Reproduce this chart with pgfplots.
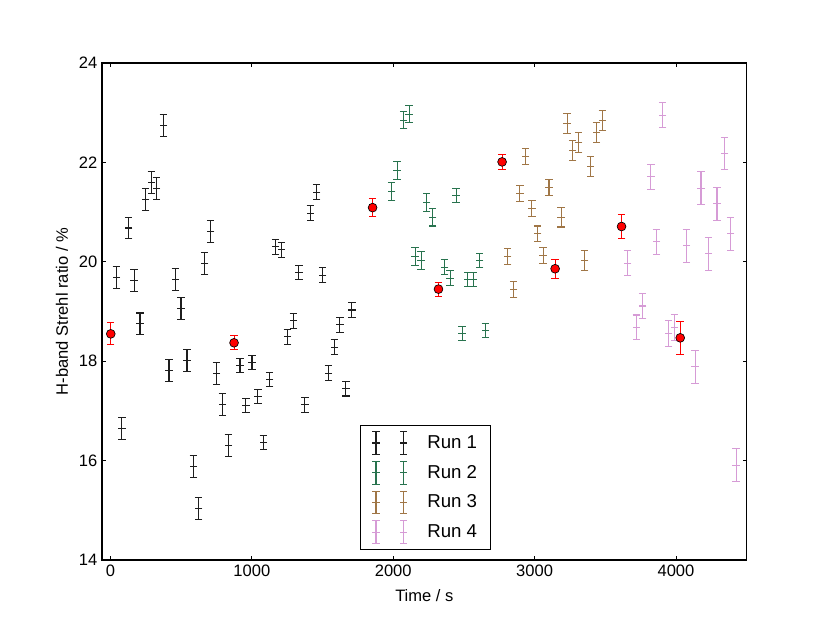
\documentclass[border=0pt]{standalone}
\usepackage{fontspec}
\setmainfont{Liberation Sans}
\usepackage{pgfplots}
\pgfplotsset{compat=1.18}
\usepackage{pgfplotstable}

\definecolor{c1}{RGB}{30,30,30}
\definecolor{c2}{RGB}{40,115,78}
\definecolor{c3}{RGB}{160,118,70}
\definecolor{c4}{RGB}{214,155,214}
\definecolor{cr}{RGB}{255,0,0}

\pgfplotstableread{
x y e
42 19.68 0.22
80 16.65 0.22
129 20.68 0.22
167 19.62 0.22
209 18.75 0.22
249 21.26 0.22
290 21.59 0.22
325 21.48 0.22
374 22.74 0.22
414 17.81 0.22
459 19.64 0.22
499 19.06 0.22
541 18.02 0.22
587 15.88 0.22
624 15.03 0.22
666 19.96 0.22
709 20.61 0.22
749 17.76 0.22
791 17.13 0.22
834 16.30 0.22
916 17.91 0.14
958 17.11 0.14
1001 17.98 0.14
1043 17.29 0.14
1081 16.37 0.14
1126 17.64 0.14
1168 20.30 0.15
1208 20.24 0.15
1251 18.49 0.15
1293 18.81 0.15
1333 19.79 0.14
1375 17.12 0.15
1413 20.98 0.15
1458 21.40 0.15
1500 19.73 0.15
1541 17.76 0.15
1583 18.28 0.15
1623 18.73 0.15
1665 17.45 0.15
1707 19.03 0.15
}\runone

\pgfplotstableread{
x y e
1988 21.42 0.18
2028 21.83 0.18
2073 22.85 0.17
2113 22.97 0.17
2155 20.11 0.18
2197 20.02 0.18
2237 21.20 0.18
2278 20.90 0.18
2363 19.89 0.15
2403 19.67 0.15
2445 21.34 0.14
2488 18.55 0.14
2527 19.65 0.14
2567 19.65 0.14
2612 20.03 0.14
2652 18.61 0.14
}\runtwo

\pgfplotstableread{
x y e
2810 20.11 0.16
2852 19.45 0.16
2895 21.37 0.16
2937 22.12 0.16
2980 21.08 0.16
3022 20.56 0.16
3060 20.12 0.16
3102 21.50 0.16
3187 20.90 0.20
3230 22.79 0.20
3269 22.24 0.20
3312 22.40 0.20
3354 20.02 0.20
3394 21.92 0.20
3437 22.60 0.20
3479 22.85 0.20
}\runthree

\pgfplotstableread{
x y e
3658 19.97 0.25
3719 18.68 0.25
3764 19.11 0.25
3823 21.71 0.25
3862 20.40 0.25
3906 22.95 0.25
3948 18.56 0.26
3990 18.68 0.26
4073 20.32 0.33
4136 17.89 0.33
4177 21.48 0.33
4230 20.16 0.33
4290 21.17 0.33
4344 22.18 0.33
4386 20.56 0.33
4426 15.91 0.33
}\runfour

\pgfplotstableread{
x y e
2 18.55 0.22
874 18.37 0.14
1854 21.09 0.18
2320 19.45 0.14
2770 22.01 0.15
3145 19.86 0.19
3615 20.71 0.25
4030 18.47 0.33
}\reds

\newcommand{\errleg}[1]{\addlegendimage{legend image code/.code={
  \draw[#1,line width=0.8pt]
    (3pt,-8.5pt)--(3pt,8.5pt) (0.3pt,-8.5pt)--(5.7pt,-8.5pt) (0.3pt,8.5pt)--(5.7pt,8.5pt) (0.3pt,0pt)--(5.7pt,0pt)
    (23.8pt,-8.5pt)--(23.8pt,8.5pt) (21.1pt,-8.5pt)--(26.5pt,-8.5pt) (21.1pt,8.5pt)--(26.5pt,8.5pt) (21.1pt,0pt)--(26.5pt,0pt);
  \path (0pt,0pt) (39pt,0pt);
}}}

\pgfplotsset{
  errs/.style={only marks, mark=-, mark size=2.8pt, color=#1,
    mark options={line width=0.8pt},
    error bars/.cd, y dir=both, y explicit, error mark=|,
    error bar style={line width=0.8pt, color=#1},
    error mark options={mark size=2.8pt, line width=0.8pt, color=#1},
    /pgfplots/.cd},
}

\begin{document}
\begin{tikzpicture}
\begin{axis}[
  scale only axis,
  width=483.5pt, height=372.75pt,
  xmin=-60, xmax=4500, ymin=14, ymax=24,
  xtick={0,1000,2000,3000,4000},
  ytick={14,16,18,20,22,24},
  minor tick num=0,
  tick align=inside,
  major tick length=3pt,
  tick style={black, line width=0.6pt},
  axis line style={line width=1pt},
  scaled ticks=false,
  /pgf/number format/assume math mode=true,
  /pgf/number format/set thousands separator={},
  tick label style={font=\fontsize{12.4}{14}\selectfont},
  label style={font=\fontsize{12.4}{14}\selectfont},
  xlabel={Time / s},
  ylabel={H-band Strehl ratio / \%},
  xlabel style={at={(axis description cs:0.5,-0.072)}, anchor=center},
  ylabel style={at={(axis description cs:-0.062,0.5)}, anchor=center},
  legend style={at={(0.4002,0.02)}, anchor=south west, draw=black, line width=1pt,
    font=\fontsize{14}{16}\selectfont, row sep=4.5pt, inner xsep=8pt, inner ysep=4pt},
  legend cell align=left,
]
\coordinate (BL) at (rel axis cs:0,0);
\addplot+[forget plot, errs=c1] table[x=x,y=y,y error=e] {\runone};
\addplot+[forget plot, errs=c2] table[x=x,y=y,y error=e] {\runtwo};
\addplot+[forget plot, errs=c3] table[x=x,y=y,y error=e] {\runthree};
\addplot+[forget plot, errs=c4] table[x=x,y=y,y error=e] {\runfour};
\addplot+[forget plot, only marks, mark=*, mark size=3.3pt, color=cr,
  mark options={fill=cr, draw=black, line width=0.5pt},
  error bars/.cd, y dir=both, y explicit, error mark=|,
  error bar style={line width=0.8pt, color=cr},
  error mark options={mark size=2.8pt, line width=0.8pt, color=cr}]
  table[x=x,y=y,y error=e] {\reds};
\errleg{c1}\addlegendentry{Run 1}
\errleg{c2}\addlegendentry{Run 2}
\errleg{c3}\addlegendentry{Run 3}
\errleg{c4}\addlegendentry{Run 4}
\end{axis}
\pgfresetboundingbox
\path (BL) ++(-76.5pt,-47.25pt) rectangle ++(622.5pt,467.25pt);
\end{tikzpicture}
\end{document}
